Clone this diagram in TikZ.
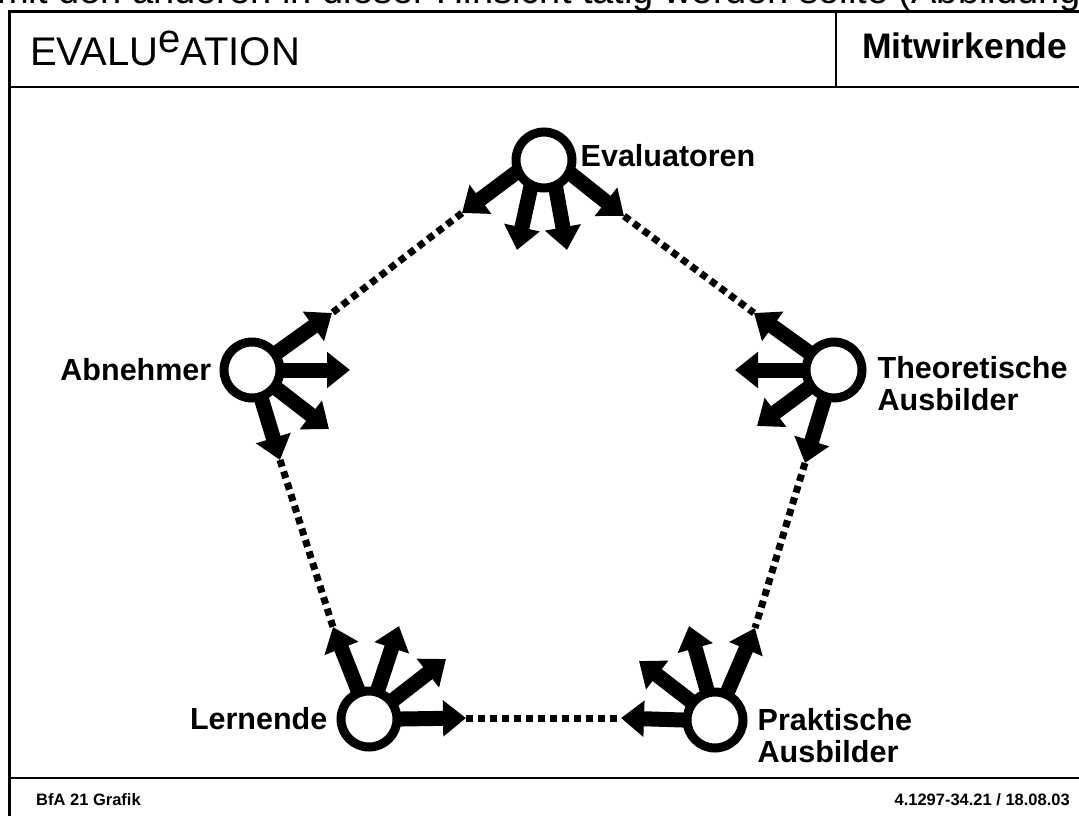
\documentclass[tikz,border=0pt]{standalone}
\usepackage{fontspec}
\setmainfont{Liberation Sans}
\usetikzlibrary{arrows.meta,positioning,backgrounds}

\begin{document}
\begin{tikzpicture}[x=1pt, y=-1pt,
  role/.style = {shape=circle, draw, line width=9pt, fill=white,
    minimum size=56pt, inner sep=0pt},
  lbl/.style = {font=\fontsize{30.5}{32}\selectfont\bfseries,
    align=left, inner sep=0pt},
  push/.style = {line width=15pt, -{Triangle[length=23pt,width=35pt]},
    shorten <=-9pt},
  linkdots/.style = {line width=7pt, dash pattern=on 7pt off 5pt}]
  \useasboundingbox (0,0) rectangle (1079,816);
  \clip (0,0) rectangle (1079,816);
  % frame
  \node[anchor=base west, inner sep=0pt, font=\fontsize{38}{38}\selectfont]
    (prev) at (-3,4) {mit den anderen in dieser Hinsicht tätig werden sollte (Abbildung};
  \draw[line width=3pt] (7.5,12) -- (1079,12);
  \draw[line width=3pt] (9,12) -- (9,816);
  \draw[line width=2pt] (9,87) -- (1079,87);
  \draw[line width=1.5pt] (836,12) -- (836,87);
  \draw[line width=2.5pt] (9,778) -- (1079,778);
  \node[anchor=west, inner sep=0pt, font=\fontsize{40}{40}\selectfont]
    (title) at (30,48) {EVALU\raisebox{13pt}{e}ATION};
  \node[anchor=west, inner sep=0pt, font=\fontsize{35.5}{36}\selectfont\bfseries]
    (topic) at (862,46) {Mitwirkende};
  \node[anchor=west, inner sep=0pt, font=\fontsize{16.5}{18}\selectfont\bfseries]
    (src) at (36,800) {BfA 21 Grafik};
  \node[anchor=east, inner sep=0pt, font=\fontsize{16.5}{18}\selectfont\bfseries]
    (ref) at (1070,800) {4.1297-34.21 / 18.08.03};
  % the five roles
  \node[role] (ev) at (544,160) {};
  \node[role] (ab) at (252,370) {};
  \node[role] (th) at (834,370) {};
  \node[role] (le) at (369,719) {};
  \node[role] (pr) at (715,720) {};
  \node[lbl, right=4pt of ev, yshift=4pt] (evname) {Evaluatoren};
  \node[lbl, left=8pt of ab] (abname) {Abnehmer};
  \node[lbl, right=11pt of th, yshift=-14pt] (thname) {Theoretische\\Ausbilder};
  \node[lbl, left=9pt of le] (lename) {Lernende};
  \node[lbl, right=10pt of pr, yshift=-16pt] (prname) {Praktische\\Ausbilder};
  % arrow tips
  \coordinate (ev-l) at (462,213);
  \coordinate (ev-dl) at (517,250);
  \coordinate (ev-dr) at (567,250);
  \coordinate (ev-r) at (624,216);
  \coordinate (ab-ur) at (332,313);
  \coordinate (ab-r) at (350,370);
  \coordinate (ab-dr) at (329,429);
  \coordinate (ab-d) at (280,460);
  \coordinate (th-ul) at (754,313);
  \coordinate (th-l) at (735,370);
  \coordinate (th-dl) at (757,426);
  \coordinate (th-d) at (805,463);
  \coordinate (le-ul) at (333,627);
  \coordinate (le-u) at (399,626);
  \coordinate (le-ur) at (446,659);
  \coordinate (le-r) at (466,718);
  \coordinate (pr-l) at (621,718);
  \coordinate (pr-ul) at (639,661);
  \coordinate (pr-u) at (689,626);
  \coordinate (pr-ur) at (755,628);
  \begin{scope}[on background layer]
    \draw[push] (ev.205) -- (ev-l);
    \draw[push] (ev.245) -- (ev-dl);
    \draw[push] (ev.292) -- (ev-dr);
    \draw[push] (ev.332) -- (ev-r);
    \draw[push] (ab.35) -- (ab-ur);
    \draw[push] (ab.0) -- (ab-r);
    \draw[push] (ab.323) -- (ab-dr);
    \draw[push] (ab.288) -- (ab-d);
    \draw[push] (th.145) -- (th-ul);
    \draw[push] (th.180) -- (th-l);
    \draw[push] (th.215) -- (th-dl);
    \draw[push] (th.252) -- (th-d);
    \draw[push] (le.111) -- (le-ul);
    \draw[push] (le.73) -- (le-u);
    \draw[push] (le.38) -- (le-ur);
    \draw[push] (le.0) -- (le-r);
    \draw[push] (pr.180) -- (pr-l);
    \draw[push] (pr.142) -- (pr-ul);
    \draw[push] (pr.105) -- (pr-u);
    \draw[push] (pr.66) -- (pr-ur);
  \end{scope}
  % dotted links between the roles
  \draw[linkdots] (ev-l) -- (ab-ur);
  \draw[linkdots] (ev-r) -- (th-ul);
  \draw[linkdots] (ab-d) -- (le-ul);
  \draw[linkdots] (th-d) -- (pr-ur);
  \draw[linkdots] (le-r) -- (pr-l);
\end{tikzpicture}
\end{document}
